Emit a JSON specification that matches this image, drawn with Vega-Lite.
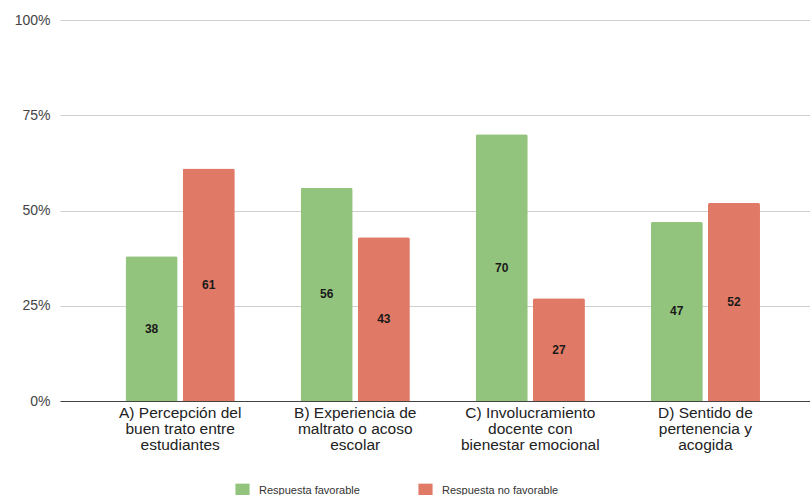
{
  "$schema": "https://vega.github.io/schema/vega-lite/v6.json",
  "width": 750,
  "height": 381,
  "autosize": {"type": "none"},
  "padding": {"left": 60, "top": 20, "right": 0, "bottom": 94},
  "background": "white",
  "config": {
    "font": "Liberation Sans",
    "view": {"stroke": null}
  },
  "data": {
    "values": [
      {"categoria": "A) Percepción del buen trato entre estudiantes", "respuesta": "Respuesta favorable", "valor": 38},
      {"categoria": "A) Percepción del buen trato entre estudiantes", "respuesta": "Respuesta no favorable", "valor": 61},
      {"categoria": "B) Experiencia de maltrato o acoso escolar", "respuesta": "Respuesta favorable", "valor": 56},
      {"categoria": "B) Experiencia de maltrato o acoso escolar", "respuesta": "Respuesta no favorable", "valor": 43},
      {"categoria": "C) Involucramiento docente con bienestar emocional", "respuesta": "Respuesta favorable", "valor": 70},
      {"categoria": "C) Involucramiento docente con bienestar emocional", "respuesta": "Respuesta no favorable", "valor": 27},
      {"categoria": "D) Sentido de pertenencia y acogida", "respuesta": "Respuesta favorable", "valor": 47},
      {"categoria": "D) Sentido de pertenencia y acogida", "respuesta": "Respuesta no favorable", "valor": 52}
    ]
  },
  "encoding": {
    "x": {
      "field": "categoria",
      "type": "nominal",
      "sort": null,
      "title": null,
      "scale": {"paddingInner": 0.35, "paddingOuter": 0.317, "align": 0.57},
      "axis": {
        "labelAngle": 0,
        "labelFontSize": 15.5,
        "labelColor": "#222222",
        "labelLineHeight": 16,
        "labelPadding": 4,
        "labelBaseline": "top",
        "ticks": false,
        "domain": true,
        "domainColor": "#444444",
        "domainWidth": 1,
        "labelLimit": 300,
        "labelExpr": "datum.value[0] == 'A' ? ['A) Percepción del', 'buen trato entre', 'estudiantes'] : datum.value[0] == 'B' ? ['B) Experiencia de', 'maltrato o acoso', 'escolar'] : datum.value[0] == 'C' ? ['C) Involucramiento', 'docente con', 'bienestar emocional'] : ['D) Sentido de', 'pertenencia y', 'acogida']"
      }
    },
    "xOffset": {
      "field": "respuesta",
      "type": "nominal",
      "scale": {"paddingInner": 0.09, "paddingOuter": 0.04}
    }
  },
  "layer": [
    {
      "mark": {"type": "bar", "cornerRadiusTopLeft": 2, "cornerRadiusTopRight": 2},
      "encoding": {
        "y": {
          "field": "valor",
          "type": "quantitative",
          "title": null,
          "scale": {"domain": [0, 100], "nice": false},
          "axis": {
            "values": [0, 25, 50, 75, 100],
            "labelExpr": "datum.value + '%'",
            "labelFontSize": 14,
            "labelColor": "#444444",
            "labelPadding": 10,
            "labelBaseline": "middle",
            "ticks": false,
            "domain": false,
            "gridColor": "#d0d0d0",
            "gridWidth": 1
          }
        },
        "color": {
          "field": "respuesta",
          "type": "nominal",
          "scale": {"domain": ["Respuesta favorable", "Respuesta no favorable"], "range": ["#93c47d", "#e07a66"]},
          "legend": {
            "title": null,
            "orient": "none",
            "direction": "horizontal",
            "legendX": 175,
            "legendY": 463,
            "symbolType": "square",
            "symbolSize": 200,
            "symbolStrokeWidth": 0,
            "symbolOpacity": 1,
            "labelFontSize": 11,
            "labelColor": "#333333",
            "labelOffset": 9,
            "columnPadding": 58,
            "padding": 0
          }
        }
      }
    },
    {
      "mark": {"type": "text", "fontWeight": "bold", "fontSize": 12, "color": "#1a1a1a", "baseline": "middle", "align": "center"},
      "encoding": {
        "y": {
          "field": "valor",
          "type": "quantitative",
          "scale": {"domain": [0, 200], "nice": false},
          "axis": null
        },
        "text": {"field": "valor", "type": "quantitative"}
      }
    }
  ],
  "resolve": {"scale": {"y": "independent"}}
}
